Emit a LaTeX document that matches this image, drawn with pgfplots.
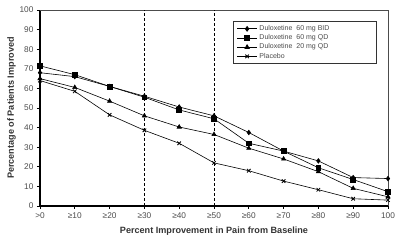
\documentclass[border=0pt]{standalone}
\usepackage{pgfplots}
\pgfplotsset{compat=1.18}
\usepackage{fontspec}
\setmainfont{Liberation Sans}
\begin{document}
\begin{tikzpicture}
\begin{axis}[
  name=ax,
  scale only axis,
  width=348pt, height=196pt,
  xmin=0, xmax=10, ymin=0, ymax=100,
  axis x line*=bottom, axis y line*=left,
  axis line style={line width=1.1pt, black, -},
  xtick={0,1,2,3,4,5,6,7,8,9,10},
  xticklabels={>0,≥10,≥20,≥30,≥40,≥50,≥60,≥70,≥80,≥90,100},
  ytick={0,10,...,100},
  tick align=outside,
  major tick length=3pt,
  tick style={black, line width=0.8pt},
  ticklabel style={font=\fontsize{8.3}{9}\selectfont, text=black!70},
  /pgf/number format/assume math mode=true,
  xlabel={Percent Improvement in Pain from Baseline},
  ylabel={Percentage of Patients Improved},
  label style={font=\fontsize{9.1}{10}\selectfont\bfseries, text=black!80},
  xlabel style={yshift=-1.5pt},
  ylabel style={yshift=-3pt},
  clip=false,
  legend style={at={(0.968,0.944)}, anchor=north east, draw=black!80, line width=0.8pt,
    font=\fontsize{7}{8}\selectfont, text=black!70, inner xsep=3pt, inner ysep=2.2pt, row sep=-1.4pt,
    cells={anchor=west}},
  legend image code/.code={\draw[mark repeat=2,mark phase=2] plot coordinates {(0cm,0cm) (0.35cm,0cm) (0.7cm,0cm)};},
  legend image post style={line width=0.8pt},
  every axis plot/.append style={black, line width=0.6pt},
]
\draw[black!70, line width=0.6pt] (rel axis cs:0,1) -- (rel axis cs:1,1) -- (rel axis cs:1,0);
\draw[densely dashed, line width=0.6pt] (axis cs:3,0) -- (axis cs:3,100);
\draw[densely dashed, line width=0.6pt] (axis cs:5,0) -- (axis cs:5,100);
\addplot[mark=diamond*, mark size=2.3pt] coordinates {
(0,68) (1,66) (2,61) (3,56) (4,50.5) (5,46) (6,37.5) (7,28) (8,23) (9,14.5) (10,14)};
\addlegendentry{\makebox[112pt][l]{Duloxetine\ \ 60 mg BID}}
\addplot[mark=square*, mark size=2.4pt] coordinates {
(0,71.5) (1,67) (2,61) (3,55.5) (4,49) (5,44.5) (6,32) (7,28) (8,19.5) (9,13.5) (10,7.3)};
\addlegendentry{Duloxetine\ \ 60 mg QD}
\addplot[mark=triangle*, mark size=2.4pt] coordinates {
(0,65) (1,60.5) (2,53.5) (3,46) (4,40.3) (5,36.5) (6,29.5) (7,24) (8,17.5) (9,9) (10,4.7)};
\addlegendentry{Duloxetine\ \ 20 mg QD}
\addplot[mark=x, mark size=2.5pt, mark options={line width=0.8pt}] coordinates {
(0,64) (1,58.5) (2,46.5) (3,38.6) (4,32) (5,22) (6,18) (7,12.7) (8,8.3) (9,3.7) (10,3)};
\addlegendentry{Placebo}
\end{axis}
\pgfresetboundingbox
\path (ax.south west) ++(-40pt,-39pt);
\path (ax.north east) ++(12pt,10pt);
\end{tikzpicture}
\end{document}
